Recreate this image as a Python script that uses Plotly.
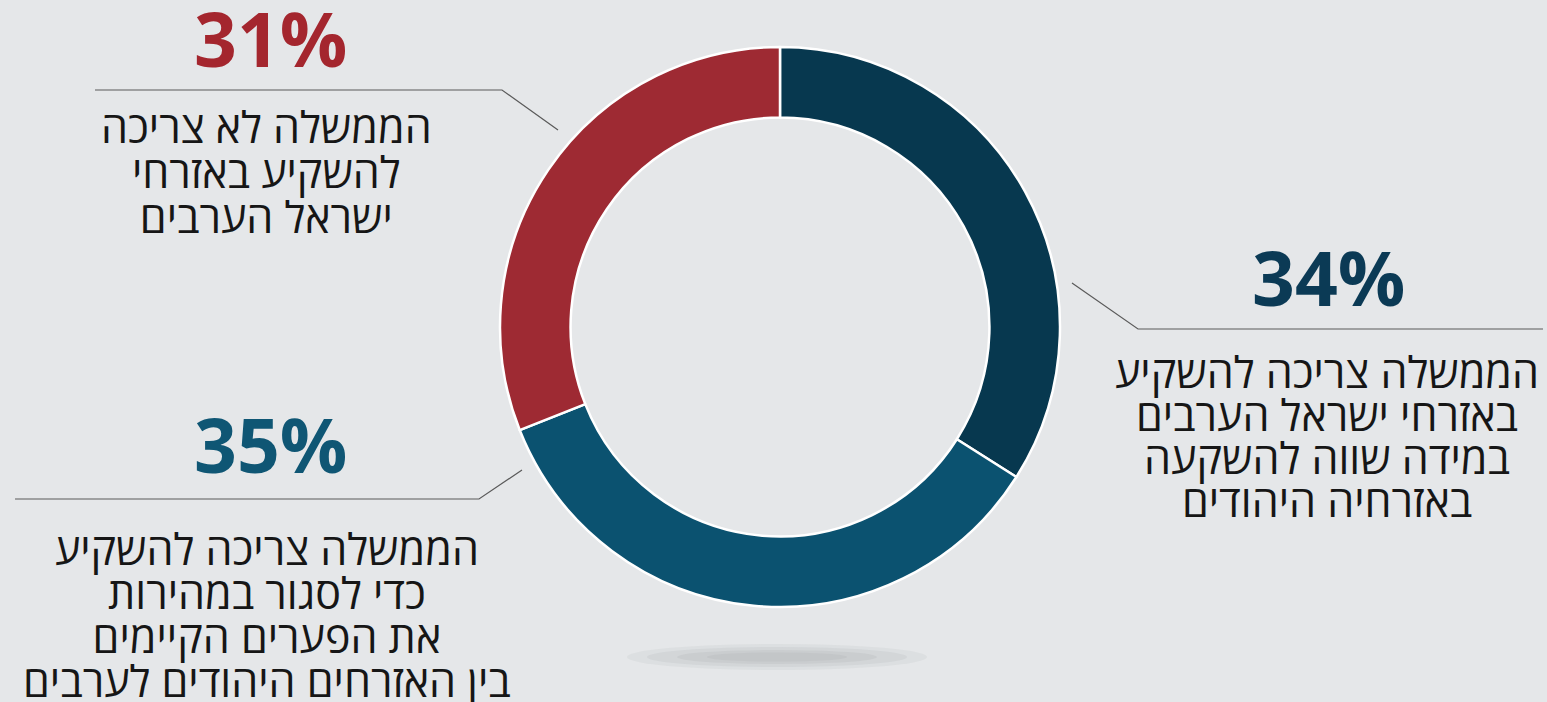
import plotly.graph_objects as go

W, H = 1547, 702

# ---- data ----
categories = [
    "הממשלה צריכה להשקיע באזרחי ישראל הערבים במידה שווה להשקעה באזרחיה היהודים",
    "הממשלה צריכה להשקיע כדי לסגור במהירות את הפערים הקיימים בין האזרחים היהודים לערבים",
    "הממשלה לא צריכה להשקיע באזרחי ישראל הערבים",
]
values = [34, 35, 31]
label_lines = [
    ["הממשלה צריכה להשקיע", "באזרחי ישראל הערבים", "במידה שווה להשקעה", "באזרחיה היהודים"],
    ["הממשלה צריכה להשקיע", "כדי לסגור במהירות", "את הפערים הקיימים", "בין האזרחים היהודים לערבים"],
    ["הממשלה לא צריכה", "להשקיע באזרחי", "ישראל הערבים"],
]
slice_colors = ["#07384f", "#0b5270", "#9e2a33"]
pct_colors = ["#0b3a55", "#0f5674", "#a4262e"]

BG = "#e5e7e9"

def px(x):
    return x / W

def py(y):
    return 1 - y / H

# donut geometry (pixels)
cx, cy, R = 780, 327, 280

fig = go.Figure()
fig.add_trace(go.Pie(
    labels=categories,
    values=values,
    sort=False,
    direction="clockwise",
    rotation=0,
    hole=0.748,
    marker=dict(colors=slice_colors, line=dict(color="#ffffff", width=2.5)),
    textinfo="none",
    hoverinfo="label+percent",
    showlegend=False,
    domain=dict(x=[px(cx - R), px(cx + R)], y=[py(cy + R), py(cy - R)]),
))

shapes = []
# soft shadow under the donut
for (w, h, op) in [(300, 26, 0.18), (260, 20, 0.25), (200, 14, 0.35), (140, 9, 0.4)]:
    sx, sy = 777, 657
    shapes.append(dict(type="circle", xref="paper", yref="paper",
                       x0=px(sx - w / 2), x1=px(sx + w / 2),
                       y0=py(sy + h / 2), y1=py(sy - h / 2),
                       fillcolor="#b9bcbf", opacity=op, line=dict(width=0),
                       layer="below"))

# leader lines
leaders = [
    [(1072, 283), (1138, 329), (1543, 329)],
    [(15, 499), (479, 499), (522, 470)],
    [(95, 90), (502, 90), (558, 130)],
]
for pts in leaders:
    path = "M " + " L ".join(f"{px(x):.5f},{py(y):.5f}" for x, y in pts)
    shapes.append(dict(type="path", xref="paper", yref="paper", path=path,
                       line=dict(color="#5a5a5a", width=1.2)))

annotations = []
pct_pos = [(1328, 277), (270, 443.5), (270, 37.5)]
# (center x, center y of block, base size controlling line spacing)
text_pos = [(1327, 436, 33.1), (267, 614, 33.8), (266, 172, 34.6)]
GLYPH = 43
for i, v in enumerate(values):
    x, y = pct_pos[i]
    annotations.append(dict(x=px(x), y=py(y), xref="paper", yref="paper",
                            text=f"<b>{v}%</b>", showarrow=False,
                            xanchor="center", yanchor="middle",
                            font=dict(family="Open Sans", size=75, color=pct_colors[i])))
    tx, ty, base = text_pos[i]
    body = "<br>".join(f'<span style="font-size:{GLYPH}px">{ln}</span>' for ln in label_lines[i])
    annotations.append(dict(x=px(tx), y=py(ty), xref="paper", yref="paper",
                            text=body, showarrow=False, align="center",
                            xanchor="center", yanchor="middle",
                            font=dict(family="Open Sans", size=base, color="#161616", weight=500)))

fig.update_layout(
    width=W, height=H,
    margin=dict(l=0, r=0, t=0, b=0),
    paper_bgcolor=BG, plot_bgcolor=BG,
    shapes=shapes, annotations=annotations,
)

fig.write_html("out.html", config={"displayModeBar": False},
               post_script="document.body.style.margin='0';document.body.style.background='" + BG + "';")
